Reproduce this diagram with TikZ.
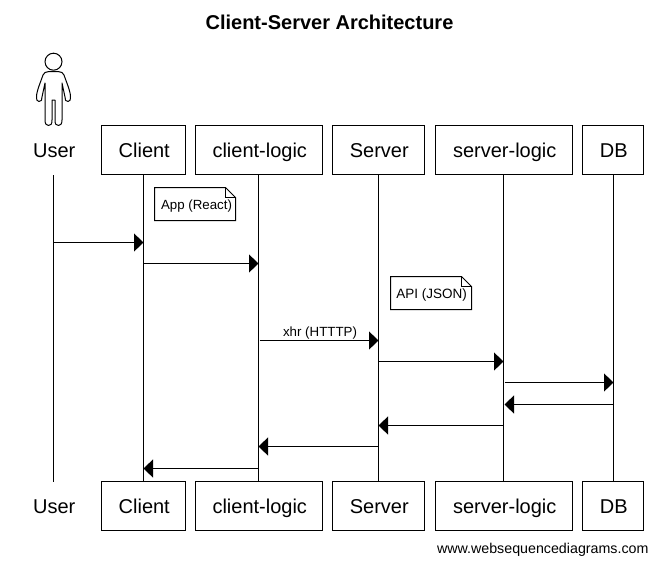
\documentclass[tikz,border=0pt]{standalone}
\usepackage{fontspec}
\setmainfont{Liberation Sans}
\usetikzlibrary{arrows.meta}
\tikzset{
  x=1pt,y=-1pt,
  every node/.style={inner sep=0pt,outer sep=0pt},
  lbl/.style={font=\fontsize{20}{24}\selectfont,text height=17pt,text depth=2pt},
  part/.style={lbl,draw=black,line width=1pt,minimum height=49pt,fill=white,execute at begin node={\hspace*{1.5pt}}},
  life/.style={line width=1pt},
  msg/.style={line width=1pt,-{Triangle[length=9.5pt,width=18pt]}},
  notebox/.style={line width=1pt,fill=white},
  small/.style={font=\fontsize{13.3}{16}\selectfont},
}
\begin{document}
\begin{tikzpicture}
\useasboundingbox (0,0) rectangle (658,565);
\fill[white] (0,0) rectangle (658,565);
\node[font=\bfseries\fontsize{20}{24}\selectfont] (title) at (329.5,22) {Client-Server Architecture};
% actor
\draw[line width=1pt,fill=white] (53.5,61.7) circle (8.5);
\draw[line width=1pt,line join=round] (49,71.5) .. controls (46,72) and (43.5,72.5) .. (43,75)
  .. controls (41,81) and (37,90) .. (36.5,96) .. controls (36.5,100) and (37,101.5) .. (39,101.5)
  .. controls (41.5,101.5) and (42,100) .. (42,97) -- (45,83) -- (45,120)
  .. controls (45,124) and (46.5,125.5) .. (48.5,125.5) .. controls (51,125.5) and (52,124) .. (52,120)
  -- (52,100) -- (55,100) -- (55,120)
  .. controls (55,124) and (56,125.5) .. (58.5,125.5) .. controls (60.5,125.5) and (62,124) .. (62,120)
  -- (62,83) -- (65,97)
  .. controls (65,100) and (65.5,101.5) .. (68,101.5) .. controls (70,101.5) and (70.5,100) .. (70.5,96)
  .. controls (70,90) and (66,81) .. (64,75) .. controls (63.5,72.5) and (61,72) .. (58,71.5) -- cycle;
% top participants
\node[lbl] (userT) at (54.2,150) {User};
\node[part,minimum width=84pt] (clientT) at (143.5,150) {Client};
\node[part,minimum width=127pt] (logicT) at (259,150) {client-logic};
\node[part,minimum width=92pt] (serverT) at (378.5,150) {Server};
\node[part,minimum width=137pt] (slogicT) at (504,150) {server-logic};
\node[part,minimum width=61pt] (dbT) at (613,150) {DB};
% bottom participants
\node[lbl] (userB) at (54.2,506) {User};
\node[part,minimum width=84pt] (clientB) at (143.5,506) {Client};
\node[part,minimum width=127pt] (logicB) at (259,506) {client-logic};
\node[part,minimum width=92pt] (serverB) at (378.5,506) {Server};
\node[part,minimum width=137pt] (slogicB) at (504,506) {server-logic};
\node[part,minimum width=61pt] (dbB) at (613,506) {DB};
% lifelines
\coordinate (uA) at (53.5,175);
\coordinate (uB) at (53.5,481.5);
\coordinate (cA) at (clientT.south);
\coordinate (cB) at (clientB.north);
\coordinate (lA) at ([xshift=-.5pt]logicT.south);
\coordinate (lB) at ([xshift=-.5pt]logicB.north);
\coordinate (sA) at (serverT.south);
\coordinate (sB) at (serverB.north);
\coordinate (gA) at ([xshift=-.5pt]slogicT.south);
\coordinate (gB) at ([xshift=-.5pt]slogicB.north);
\coordinate (dA) at ([xshift=.5pt]dbT.south);
\coordinate (dB) at ([xshift=.5pt]dbB.north);
\draw[life] (uA) -- (uB);
\draw[life] (cA) -- (cB);
\draw[life] (lA) -- (lB);
\draw[life] (sA) -- (sB);
\draw[life] (gA) -- (gB);
\draw[life] (dA) -- (dB);
% notes
\draw[notebox] (154.5,187.5) -- (225.5,187.5) -- (235.5,197.5) -- (235.5,220.5) -- (154.5,220.5) -- cycle;
\draw[line width=1pt] (225.5,187.5) -- (225.5,197.5) -- (235.5,197.5);
\node[small] (note1) at (196.5,206) {App (React)};
\draw[notebox] (390.5,276.5) -- (461.5,276.5) -- (471.5,286.5) -- (471.5,309.5) -- (390.5,309.5) -- cycle;
\draw[line width=1pt] (461.5,276.5) -- (461.5,286.5) -- (471.5,286.5);
\node[small,font=\fontsize{13.5}{16}\selectfont] (note2) at (431.5,295) {API (JSON)};
% messages
\coordinate (m1) at (0,242.5);
\coordinate (m2) at (0,263.5);
\coordinate (m3) at (0,340.5);
\coordinate (m4) at (0,361.5);
\coordinate (m5) at (0,382.5);
\coordinate (m6) at (0,404.5);
\coordinate (m7) at (0,425.5);
\coordinate (m8) at (0,446.5);
\coordinate (m9) at (0,468.5);
\draw[msg] (uA |- m1) -- (cA |- m1);
\draw[msg] (cA |- m2) -- (lA |- m2);
\draw[msg] ([xshift=1pt]lA |- m3) -- (sA |- m3) node[small,midway,above=1.5pt,xshift=1pt] (m3l) {xhr (HTTTP)};
\draw[msg] (sA |- m4) -- (gA |- m4);
\draw[msg] ([xshift=1pt]gA |- m5) -- (dA |- m5);
\draw[msg] (dA |- m6) -- ([xshift=1pt]gA |- m6);
\draw[msg] (gA |- m7) -- (sA |- m7);
\draw[msg] (sA |- m8) -- (lA |- m8);
\draw[msg] (lA |- m9) -- (cA |- m9);
\node[font=\fontsize{14.25}{16}\selectfont,anchor=east] (web) at (648.5,550) {www.websequencediagrams.com};
\end{tikzpicture}
\end{document}
